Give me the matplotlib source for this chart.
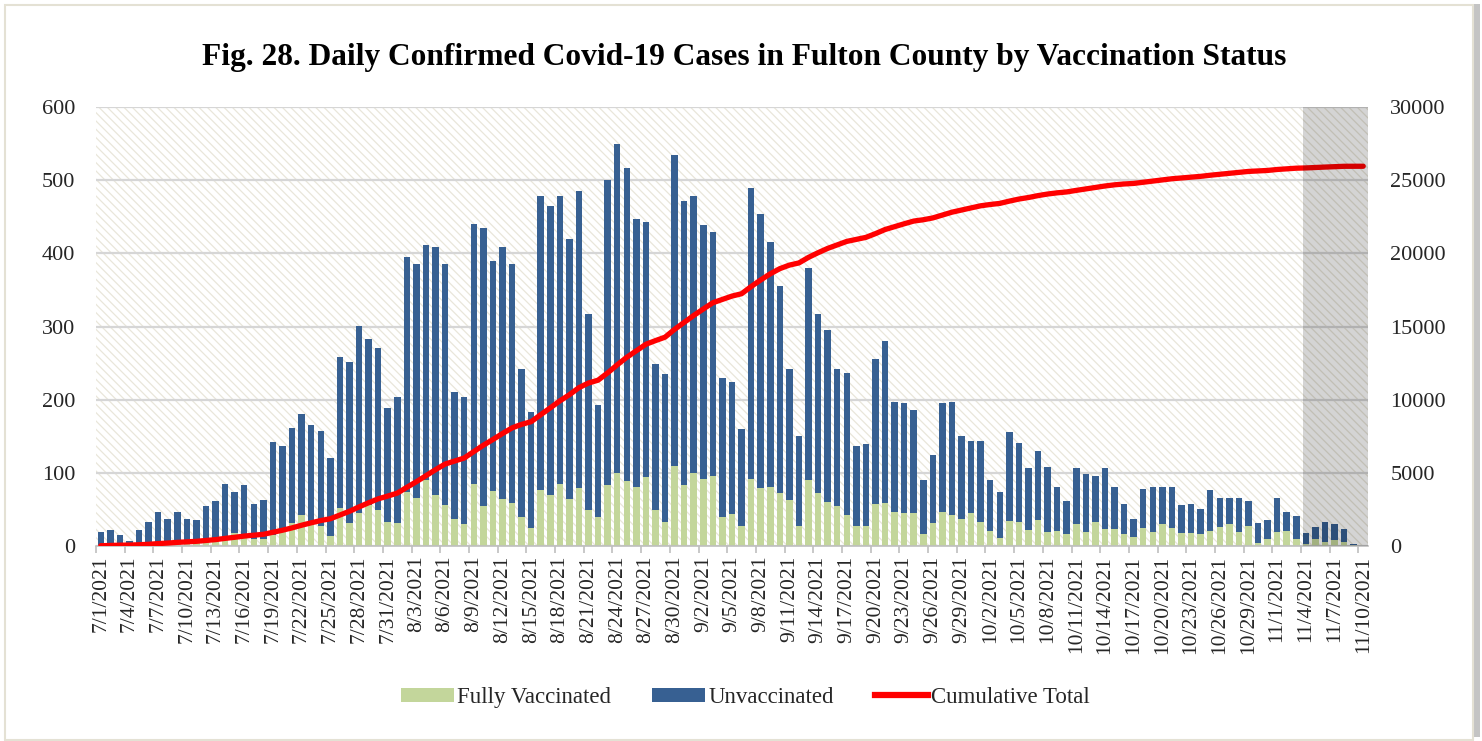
import numpy as np
import pandas as pd
import matplotlib
matplotlib.use("Agg")
import matplotlib.pyplot as plt
from matplotlib.patches import Rectangle, Patch
from matplotlib.lines import Line2D

# ---------------- data ----------------
start_date = "2021-07-01"
end_date = "2021-11-10"

fully_vaccinated = [
    2, 3, 2, 1, 2, 3, 4, 4, 5, 5, 6, 6, 8, 12, 18, 12, 10, 9, 15, 20,
    32, 42, 33, 28, 14, 52, 32, 45, 56, 49, 33, 31, 74, 65, 90, 70, 56, 37, 30, 85,
    55, 75, 64, 59, 39, 25, 76, 70, 85, 64, 79, 49, 40, 84, 100, 89, 80, 94, 49, 33,
    110, 83, 100, 91, 95, 40, 44, 28, 91, 79, 80, 72, 63, 28, 90, 72, 60, 54, 42, 27,
    28, 57, 59, 46, 45, 45, 17, 31, 46, 43, 37, 45, 33, 20, 11, 34, 33, 22, 35, 19,
    20, 16, 30, 19, 33, 23, 23, 16, 12, 25, 19, 30, 25, 18, 18, 16, 20, 26, 30, 19,
    27, 4, 10, 19, 21, 9, 3, 10, 6, 8, 6, 1, 0,
]

unvaccinated = [
    17, 19, 13, 6, 20, 30, 42, 33, 41, 32, 30, 49, 53, 73, 56, 71, 48, 54, 127, 117,
    129, 138, 132, 129, 106, 206, 219, 255, 227, 221, 155, 172, 321, 320, 321, 339, 329, 173, 174, 355,
    379, 315, 344, 326, 203, 158, 403, 395, 393, 356, 406, 268, 153, 416, 449, 427, 367, 349, 200, 202,
    425, 389, 379, 348, 334, 190, 180, 132, 398, 375, 336, 283, 179, 122, 290, 245, 235, 188, 194, 110,
    111, 198, 221, 151, 151, 141, 73, 94, 149, 154, 113, 98, 110, 70, 63, 122, 108, 84, 95, 89,
    61, 46, 76, 79, 63, 83, 57, 42, 25, 53, 62, 51, 55, 38, 39, 35, 56, 40, 36, 47,
    35, 27, 26, 47, 26, 32, 15, 16, 27, 22, 17, 2, 0,
]

dates = pd.date_range(start_date, end_date, freq="D")
date_labels = [f"{d.month}/{d.day}/{d.year}" for d in dates]
cumulative_total = np.cumsum(np.array(fully_vaccinated) + np.array(unvaccinated))

series_names = ["Fully Vaccinated", "Unvaccinated", "Cumulative Total"]

# ---------------- style ----------------
SERIF = ["Liberation Serif", "DejaVu Serif"]
plt.rcParams["font.family"] = SERIF
plt.rcParams["hatch.linewidth"] = 0.9

GREEN = "#c3d69b"
BLUE = "#376092"
RED = "#ff0000"
TXT = "#262626"

fig = plt.figure(figsize=(14.82, 7.41), dpi=100)
fig.patch.set_facecolor("white")

# outer frame + shadow
fig.add_artist(Rectangle((1474 / 1482, 4 / 741), 6 / 1482, 733 / 741,
                         transform=fig.transFigure, facecolor="#c4c4c4",
                         edgecolor="none", zorder=-3))
fig.add_artist(Rectangle((5 / 1482, 1 / 741), 1468 / 1482, 735 / 741,
                         transform=fig.transFigure, facecolor="white",
                         edgecolor="#e4e1d4", lw=1.5, zorder=-2))

left, right = 96 / 1482, 1368 / 1482
bottom, top = 1 - 546 / 741, 1 - 107 / 741
ax = fig.add_axes([left, bottom, right - left, top - bottom])
ax.set_zorder(1)
ax.set_facecolor("white")

# hatched background
ax.add_patch(Rectangle((0, 0), 1, 1, transform=ax.transAxes, facecolor="white",
                       edgecolor="#e9e6da", hatch="\\\\\\\\", lw=0, zorder=0))

x = np.arange(len(dates))
ax.bar(x, fully_vaccinated, width=0.68, color=GREEN, zorder=2, label=series_names[0])
ax.bar(x, unvaccinated, width=0.68, bottom=fully_vaccinated, color=BLUE, zorder=2,
       label=series_names[1])

ax.set_ylim(0, 600)
ax.set_xlim(-0.5, len(dates) - 0.5)
ax.set_yticks(np.arange(0, 601, 100))
ax.yaxis.grid(True, color="#d6d6d6", lw=1.6, zorder=1)
ax.set_axisbelow(True)
for s in ["top", "left", "right"]:
    ax.spines[s].set_visible(False)
ax.spines["bottom"].set_color("#bfbfbf")
ax.spines["bottom"].set_linewidth(1.2)
ax.spines["bottom"].set_zorder(5)

ax.tick_params(axis="y", length=0, pad=15, labelsize=16, labelcolor=TXT)
label_pos = x[::3]
ax.set_xticks(label_pos)
ax.set_xticklabels([date_labels[i] for i in label_pos], rotation=90,
                   fontsize=15.5, color=TXT)
ax.tick_params(axis="x", which="major", length=0, pad=7)
ax.set_xticks(label_pos - 0.5, minor=True)
ax.tick_params(axis="x", which="minor", length=5, color="#bfbfbf", width=1.2)

ax2 = ax.twinx()
ax2.set_zorder(2)
ax2.patch.set_visible(False)
ax2.plot(x, cumulative_total, color=RED, lw=3.8, solid_capstyle="round", zorder=3,
         label=series_names[2])
ax2.set_ylim(0, 30000)
ax2.set_yticks(np.arange(0, 30001, 5000))
ax2.tick_params(axis="y", length=0, pad=16, labelsize=16, labelcolor=TXT)
for s in ax2.spines.values():
    s.set_visible(False)

# shaded (incomplete data) region
ax2.axvspan(125.7, len(dates) - 0.5, color="black", alpha=0.17, lw=0, zorder=6)

fig.text(0.502, 0.923,
         "Fig. 28. Daily Confirmed Covid-19 Cases in Fulton County by Vaccination Status",
         ha="center", va="center", fontsize=22.6, fontweight="bold", color="black")

handles = [Patch(facecolor=GREEN, edgecolor="none"),
           Patch(facecolor=BLUE, edgecolor="none"),
           Line2D([0], [0], color=RED, lw=4.5)]
fig.legend(handles, series_names, loc="center", bbox_to_anchor=(0.503, 0.059),
           ncol=3, frameon=False, fontsize=16.5, handlelength=2.3, handleheight=0.55,
           handletextpad=0.15, columnspacing=1.8, labelcolor=TXT)

fig.savefig("out.png", dpi=100)
